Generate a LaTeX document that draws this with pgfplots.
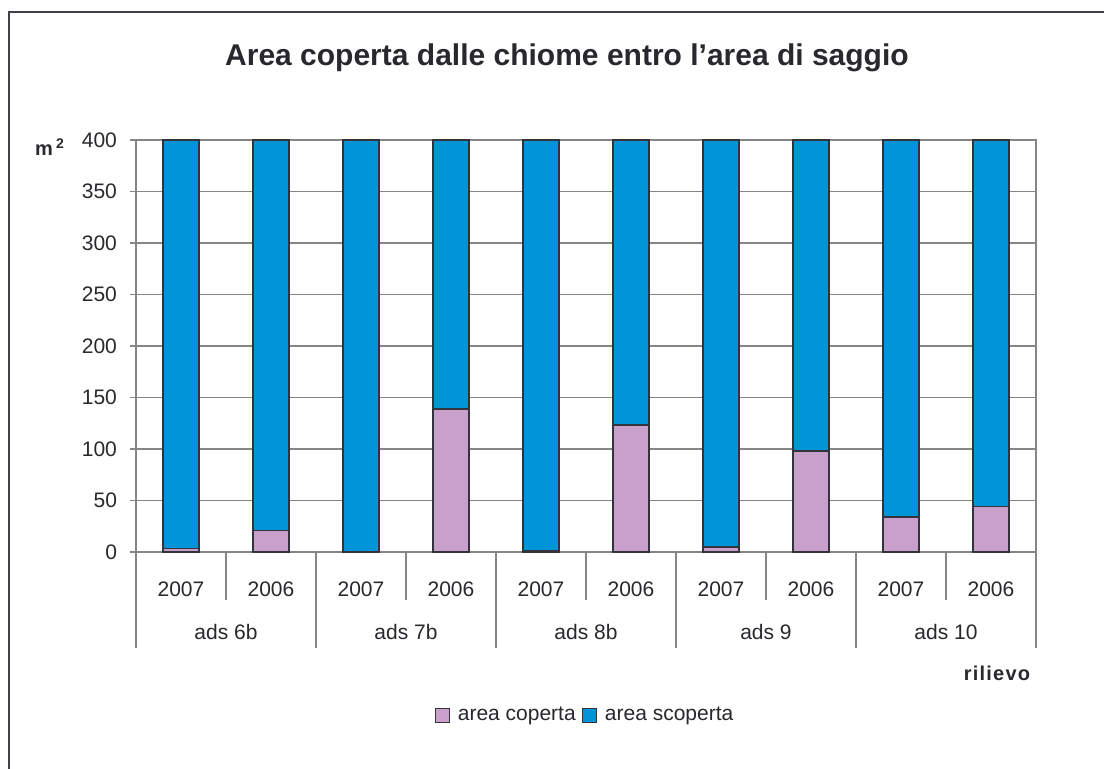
\documentclass[border=0pt]{standalone}
\usepackage{pgfplots}
\pgfplotsset{compat=1.18}
\usepackage{fontspec}
\setmainfont{Liberation Sans}
\definecolor{pinkc}{RGB}{201,160,203}
\definecolor{bluec}{RGB}{0,148,216}
\definecolor{outl}{RGB}{51,51,60}
\definecolor{gridc}{RGB}{134,134,134}
\definecolor{txt}{RGB}{40,40,45}
\begin{document}
\begin{tikzpicture}
\path[use as bounding box] (0,0) rectangle (552pt,384.5pt);
\draw[color={rgb,255:red,64;green,64;blue,70}, line width=1pt] (4.5pt,0) -- (4.5pt,378.5pt) -- (552pt,378.5pt);
\node[font=\fontsize{15}{18}\selectfont\bfseries, text=txt] at (283.5pt,355.5pt) {Area coperta dalle chiome entro l\char"0027 area di saggio};
\node[font=\fontsize{10}{12}\selectfont\bfseries, text=txt] at (25pt,311pt) {m\,\textsuperscript{2}};
\node[font=\fontsize{10}{12}\selectfont\bfseries\addfontfeature{LetterSpace=6}, text=txt] at (498.5pt,48pt) {rilievo};
\begin{axis}[
  at={(68pt,108.5pt)}, anchor=south west,
  scale only axis, width=450pt, height=206pt,
  ybar stacked, bar width=18pt,
  xmin=-0.5, xmax=9.5, ymin=0, ymax=400,
  xtick={0,...,9}, xticklabels={2007,2006,2007,2006,2007,2006,2007,2006,2007,2006},
  xtick style={draw=none},
  xticklabel style={anchor=center, yshift=-15.5pt},
  ytick={0,50,...,400}, ytick pos=left,
  ytick style={color=gridc, line width=0.6pt},
  tick align=outside, major tick length=3pt,
  yticklabel style={xshift=-3pt},
  ymajorgrids, grid style={color=gridc, line width=0.6pt},
  axis line style={color=gridc, line width=0.6pt},
  tick label style={font=\fontsize{10.5}{12}\selectfont, text=txt},
  /pgf/number format/assume math mode=true,
  clip=false,
  legend style={at={(0.5,-0.396)}, anchor=center, draw=none, legend columns=-1,
    font=\fontsize{10.5}{12}\selectfont, text=txt, column sep=2pt,
    /tikz/every even column/.append style={column sep=1pt}},
  legend image code/.code={\draw[#1, line width=0.6pt] (0pt,-3.5pt) rectangle (7pt,3.5pt);},
]
\addplot[fill=pinkc, draw=outl, line width=0.8pt] coordinates {(0,3.5) (1,21) (2,0) (3,139) (4,1.3) (5,123) (6,5) (7,98) (8,34) (9,44)};
\addplot[fill=bluec, draw=outl, line width=0.8pt] coordinates {(0,396.5) (1,379) (2,400) (3,261) (4,398.7) (5,277) (6,395) (7,302) (8,366) (9,356)};
\legend{area coperta, area scoperta}
\foreach \xx in {0.5,2.5,4.5,6.5,8.5} {
  \edef\tmp{\noexpand\draw[gridc, line width=0.6pt] (axis cs:\xx,0) -- ++(0pt,-24pt);}\tmp
}
\foreach \xx in {-0.5,1.5,3.5,5.5,7.5,9.5} {
  \edef\tmp{\noexpand\draw[gridc, line width=0.6pt] (axis cs:\xx,0) -- ++(0pt,-48pt);}\tmp
}
\node[font=\fontsize{10.5}{12}\selectfont, text=txt] at ([yshift=-40pt]axis cs:0.5,0) {ads 6b};
\node[font=\fontsize{10.5}{12}\selectfont, text=txt] at ([yshift=-40pt]axis cs:2.5,0) {ads 7b};
\node[font=\fontsize{10.5}{12}\selectfont, text=txt] at ([yshift=-40pt]axis cs:4.5,0) {ads 8b};
\node[font=\fontsize{10.5}{12}\selectfont, text=txt] at ([yshift=-40pt]axis cs:6.5,0) {ads 9};
\node[font=\fontsize{10.5}{12}\selectfont, text=txt] at ([yshift=-40pt]axis cs:8.5,0) {ads 10};
\end{axis}
\end{tikzpicture}
\end{document}
